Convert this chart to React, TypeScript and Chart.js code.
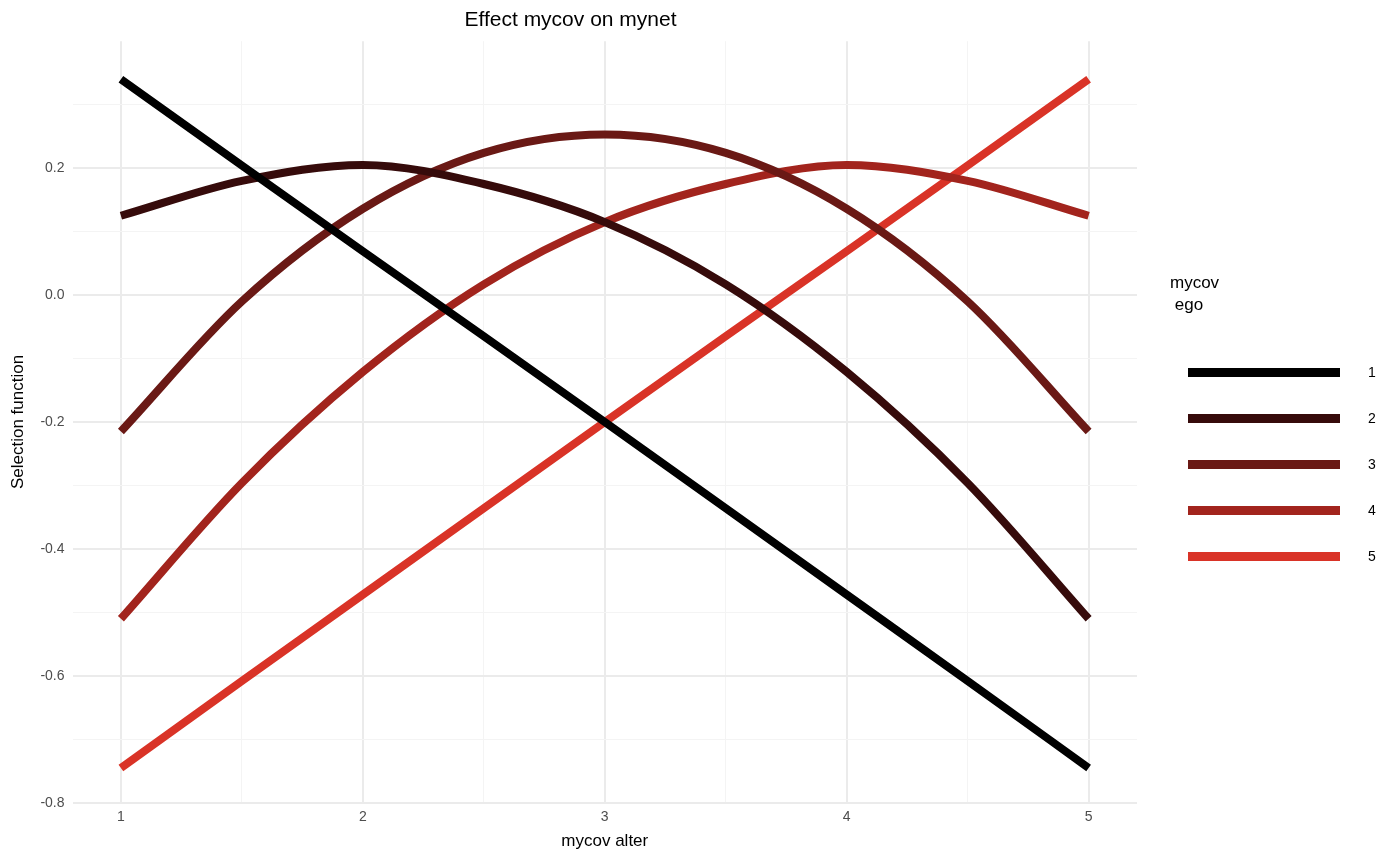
import React, { useEffect, useRef } from "react";
import { Chart, registerables } from "chart.js";
Chart.register(...registerables);

const xValues = [1, 1.5, 2, 2.5, 3, 3.5, 4, 4.5, 5];
const ego1 = [0.34, 0.204, 0.069, -0.065, -0.2, -0.336, -0.472, -0.608, -0.745];
const ego2 = [0.125, 0.18, 0.205, 0.175, 0.115, 0.017, -0.121, -0.296, -0.51];
const ego3 = [-0.215, -0.01, 0.136, 0.224, 0.253, 0.224, 0.136, -0.01, -0.215];
const ego4 = [-0.51, -0.296, -0.121, 0.017, 0.115, 0.175, 0.205, 0.18, 0.125];
const ego5 = [-0.745, -0.608, -0.472, -0.336, -0.2, -0.065, 0.069, 0.204, 0.34];
const seriesNames = ["1", "2", "3", "4", "5"];
const seriesColors = ["#000000", "#360b0b", "#6a1915", "#a2241d", "#d93327"];
const allSeries = [ego1, ego2, ego3, ego4, ego5];
const font = "Helvetica, 'Liberation Sans', Arial, sans-serif";

export default function App() {
  const ref = useRef<HTMLCanvasElement>(null);
  useEffect(() => {
    const chart = new Chart(ref.current!, {
      type: "line",
      data: {
        datasets: allSeries.map((s, i) => ({
          label: seriesNames[i],
          data: s.map((v, j) => ({ x: xValues[j], y: v })),
          borderColor: seriesColors[i],
          borderWidth: 8,
          pointRadius: 0,
          cubicInterpolationMode: "monotone" as const,
          fill: false,
        })),
      },
      options: {
        animation: false,
        responsive: false,
        layout: { padding: { left: 4, right: 263, top: 8, bottom: 10 } },
        plugins: {
          legend: { display: false },
          tooltip: { enabled: false },
          title: {
            display: true,
            text: "Effect mycov on mynet",
            color: "#000",
            font: { family: font, size: 21, weight: "normal" },
            padding: { top: 0, bottom: 8 },
          },
        },
        scales: {
          x: {
            type: "linear",
            min: 0.8,
            max: 5.2,
            afterBuildTicks: (ax: any) => {
              ax.ticks = [1, 1.5, 2, 2.5, 3, 3.5, 4, 4.5, 5].map((v) => ({ value: v }));
            },
            ticks: {
              autoSkip: false,
              maxRotation: 0,
              color: "#4d4d4d",
              padding: 6,
              font: { family: font, size: 14 },
              callback: (v: any) => (Number.isInteger(v) ? String(v) : ""),
            },
            grid: {
              color: (c: any) => (Number.isInteger(c.tick?.value) ? "#ebebeb" : "#f4f4f4"),
              lineWidth: (c: any) => (Number.isInteger(c.tick?.value) ? 2 : 1),
              drawTicks: false,
            },
            border: { display: false },
            title: { display: true, text: "mycov alter", color: "#000", font: { family: font, size: 17 }, padding: { top: 0 } },
          },
          y: {
            type: "linear",
            min: -0.8,
            max: 0.4,
            afterBuildTicks: (ax: any) => {
              ax.ticks = [-0.8, -0.7, -0.6, -0.5, -0.4, -0.3, -0.2, -0.1, 0, 0.1, 0.2, 0.3].map((v) => ({ value: v }));
            },
            ticks: {
              autoSkip: false,
              color: "#4d4d4d",
              font: { family: font, size: 14 },
              padding: 8,
              callback: (v: any) => {
                const n = Math.round(v * 10);
                return n % 2 === 0 ? (v as number).toFixed(1) : "";
              },
            },
            grid: {
              color: (c: any) => (Math.round(c.tick?.value * 10) % 2 === 0 ? "#ebebeb" : "#f4f4f4"),
              lineWidth: (c: any) => (Math.round(c.tick?.value * 10) % 2 === 0 ? 2 : 1),
              drawTicks: false,
            },
            border: { display: false },
            title: { display: true, text: "Selection function", color: "#000", font: { family: font, size: 17 } },
          },
        },
      },
    });
    return () => chart.destroy();
  }, []);
  return (
    <div style={{ position: "absolute", left: 0, top: 0, width: 1400, height: 866, background: "#fff", fontFamily: font }}>
      <canvas ref={ref} width={1400} height={866} style={{ position: "absolute", left: 0, top: 0 }} />
      <div style={{ position: "absolute", left: 1170, top: 272, fontSize: 17, lineHeight: "22px", color: "#000" }}>
        mycov<br />&nbsp;ego
      </div>
      {seriesNames.map((n, i) => (
        <div key={n} style={{ position: "absolute", left: 1188, top: 366 + i * 46, width: 200, height: 14 }}>
          <div style={{ position: "absolute", left: 0, top: 2, width: 152, height: 9, background: seriesColors[i] }} />
          <div style={{ position: "absolute", left: 180, top: -2, fontSize: 14, color: "#000" }}>{n}</div>
        </div>
      ))}
    </div>
  );
}
